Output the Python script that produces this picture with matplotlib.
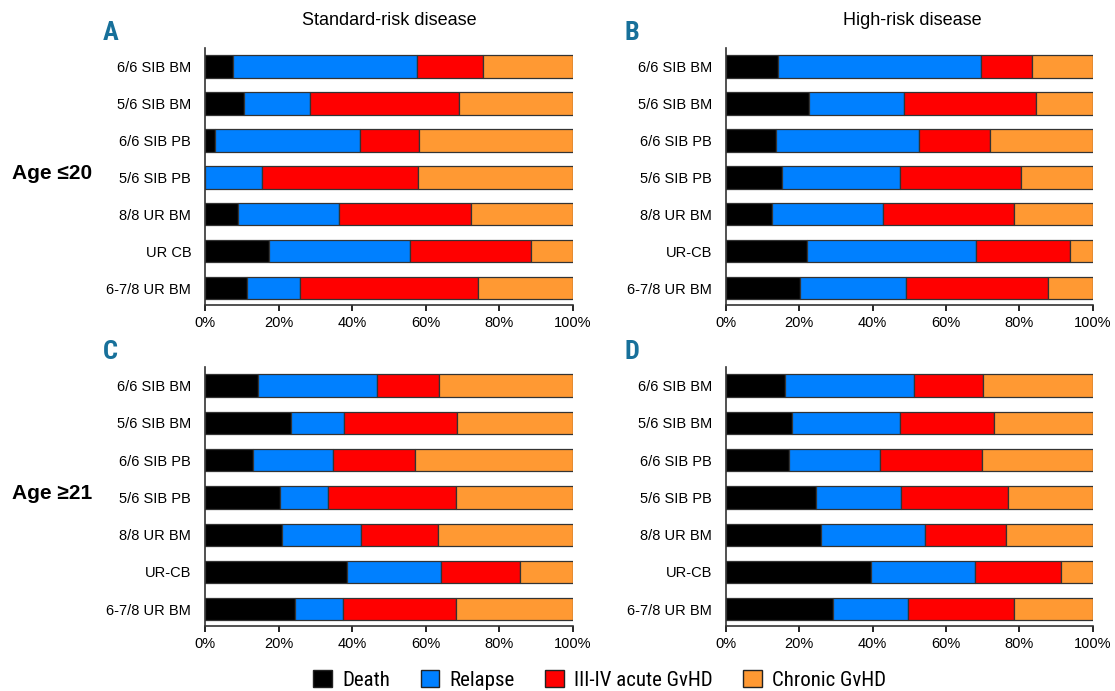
import matplotlib
matplotlib.use("Agg")
import matplotlib.pyplot as plt
from matplotlib.patches import Patch
import numpy as np

categories_A = ["6/6 SIB BM", "5/6 SIB BM", "6/6 SIB PB", "5/6 SIB PB", "8/8 UR BM", "UR CB", "6-7/8 UR BM"]
categories_B = ["6/6 SIB BM", "5/6 SIB BM", "6/6 SIB PB", "5/6 SIB PB", "8/8 UR BM", "UR-CB", "6-7/8 UR BM"]
categories_C = categories_B
categories_D = categories_B

series = ["Death", "Relapse", "III-IV acute GvHD", "Chronic GvHD"]
colors = ["#000000", "#0080ff", "#ff0000", "#ff9933"]

# segment widths (%)
death_A = [7.5, 10.6, 2.6, 0.0, 9.0, 17.4, 11.5]
relapse_A = [50.1, 17.8, 39.4, 15.4, 27.3, 38.4, 14.2]
agvhd_A = [17.9, 40.5, 16.1, 42.4, 35.9, 32.7, 48.5]
cgvhd_A = [24.5, 31.1, 41.9, 42.2, 27.8, 11.5, 25.8]

death_B = [14.2, 22.6, 13.7, 15.2, 12.5, 22.1, 20.2]
relapse_B = [55.2, 25.8, 39.0, 32.3, 30.3, 46.0, 28.8]
agvhd_B = [14.1, 36.1, 19.3, 32.8, 35.7, 25.8, 38.8]
cgvhd_B = [16.5, 15.5, 28.0, 19.7, 21.5, 6.1, 12.2]

death_C = [14.4, 23.4, 13.1, 20.3, 20.9, 38.7, 24.5]
relapse_C = [32.3, 14.4, 21.8, 13.1, 21.4, 25.3, 13.0]
agvhd_C = [16.9, 30.7, 22.1, 34.9, 21.0, 21.7, 30.8]
cgvhd_C = [36.4, 31.5, 43.0, 31.7, 36.7, 14.3, 31.7]

death_D = [16.1, 17.9, 17.1, 24.5, 25.8, 39.5, 29.3]
relapse_D = [35.2, 29.6, 24.8, 23.3, 28.4, 28.3, 20.2]
agvhd_D = [18.8, 25.5, 27.9, 29.2, 22.2, 23.4, 29.1]
cgvhd_D = [29.9, 27.0, 30.2, 23.0, 23.6, 8.8, 21.4]

xticks = [0, 20, 40, 60, 80, 100]
xticklabels = ["0%", "20%", "40%", "60%", "80%", "100%"]

panels = [
    ("A", categories_A, [death_A, relapse_A, agvhd_A, cgvhd_A], [0.1839, 0.5586, 0.330, 0.372]),
    ("B", categories_B, [death_B, relapse_B, agvhd_B, cgvhd_B], [0.6511, 0.5586, 0.329, 0.372]),
    ("C", categories_C, [death_C, relapse_C, agvhd_C, cgvhd_C], [0.1839, 0.0940, 0.330, 0.375]),
    ("D", categories_D, [death_D, relapse_D, agvhd_D, cgvhd_D], [0.6511, 0.0940, 0.329, 0.375]),
]

fig = plt.figure(figsize=(11.15, 6.91), dpi=100)
narrow = ["Roboto Condensed", "DejaVu Sans"]
sans = ["Liberation Sans", "DejaVu Sans"]

for letter, cats, vals, rect in panels:
    ax = fig.add_axes(rect)
    y = np.arange(len(cats))
    left = np.zeros(len(cats))
    for s, c, v in zip(series, colors, vals):
        v = np.array(v)
        ax.barh(y, v, left=left, height=0.6, color=c, edgecolor="#333333", linewidth=0.9)
        left = left + v
    ax.set_ylim(len(cats) - 0.55, -0.5)
    ax.set_xlim(0, 100)
    ax.set_yticks(y)
    ax.set_yticklabels(cats, fontsize=10.5, family=sans)
    ax.tick_params(axis="y", length=0, pad=10)
    ax.set_xticks(xticks)
    ax.set_xticklabels(xticklabels, fontsize=10.5, family=sans)
    ax.tick_params(axis="x", length=4, width=1.2, direction="out", pad=4)
    for sp in ["top", "right"]:
        ax.spines[sp].set_visible(False)
    ax.spines["left"].set_color("#333333")
    ax.spines["left"].set_linewidth(1.2)
    ax.spines["bottom"].set_color("#333333")
    ax.spines["bottom"].set_linewidth(1.2)
    ax.text(-0.277, 1.058, letter, transform=ax.transAxes, fontsize=19, fontweight="bold",
            color="#17709a", family=narrow, ha="left", va="center")

fig.text(0.349, 0.970, "Standard-risk disease", fontsize=13, family=sans, ha="center", va="center")
fig.text(0.818, 0.970, "High-risk disease", fontsize=13, family=sans, ha="center", va="center")
fig.text(0.011, 0.749, "Age \u226420", fontsize=15, fontweight="bold", family=sans, ha="left", va="center")
fig.text(0.011, 0.286, "Age \u226521", fontsize=15, fontweight="bold", family=sans, ha="left", va="center")

handles = [Patch(facecolor=c, edgecolor="#222222", linewidth=1.0, label=s) for s, c in zip(series, colors)]
fig.legend(handles=handles, loc="center", bbox_to_anchor=(0.538, 0.016), ncol=4, frameon=False,
           prop={"family": narrow, "size": 15}, handlelength=0.9, handleheight=0.9,
           handletextpad=0.5, columnspacing=1.45, borderpad=0)

fig.savefig("out.png", dpi=100)
